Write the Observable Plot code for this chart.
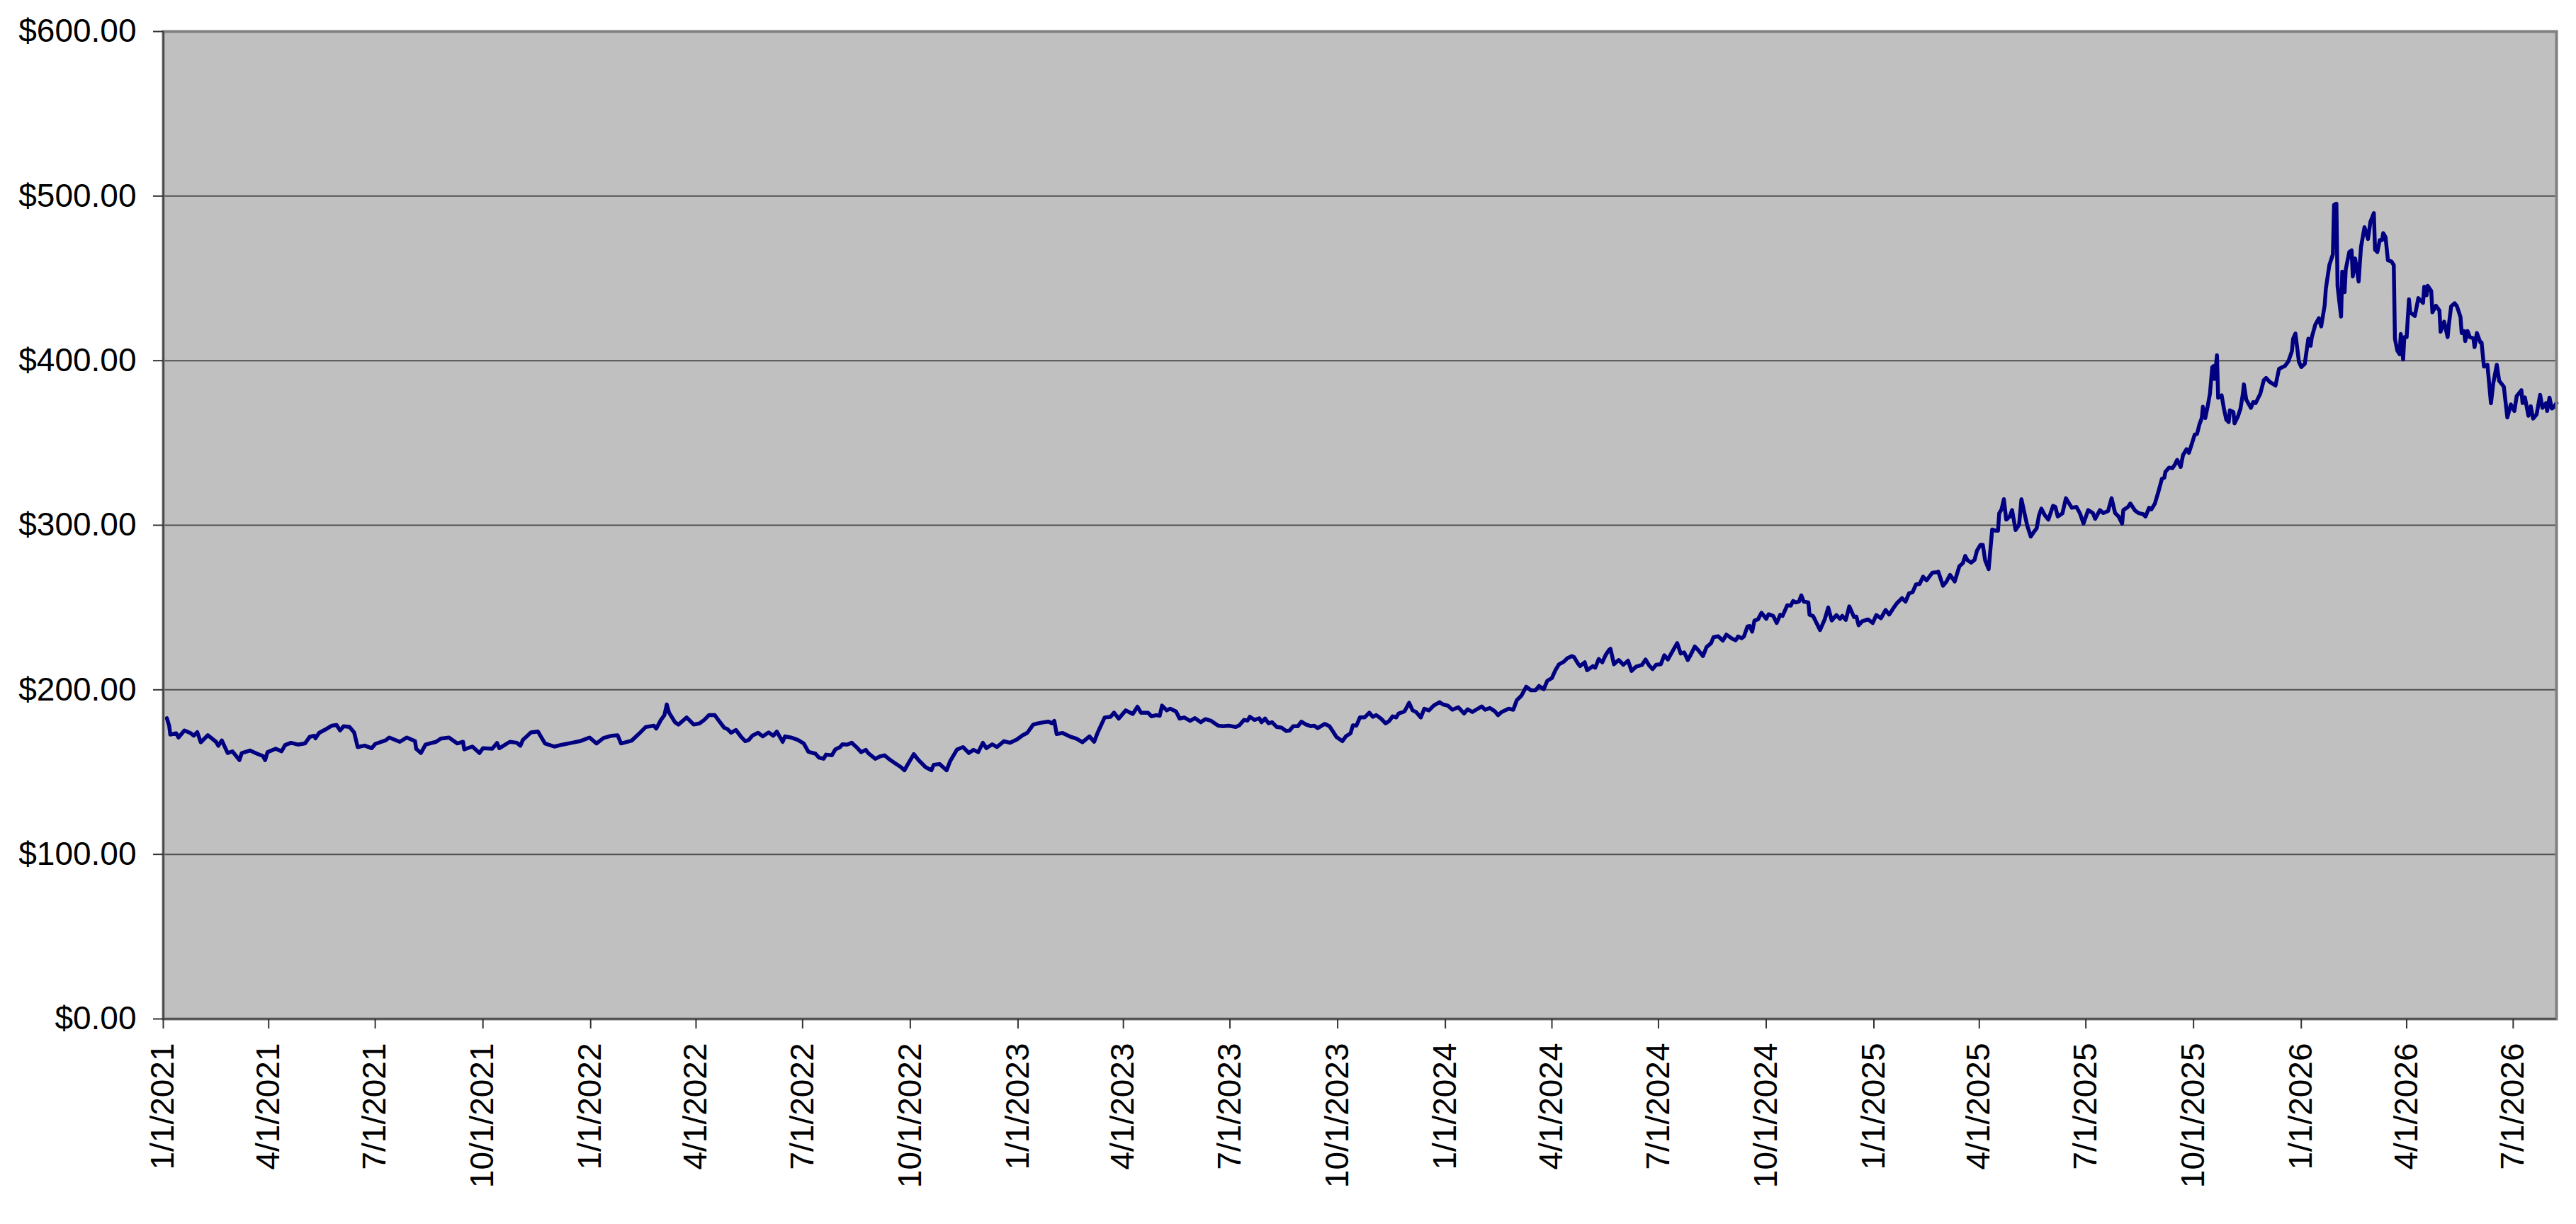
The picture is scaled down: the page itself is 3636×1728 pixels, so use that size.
<!DOCTYPE html>
<html>
<head>
<meta charset="utf-8">
<script src="https://cdn.jsdelivr.net/npm/d3@7"></script>
<script src="https://cdn.jsdelivr.net/npm/@observablehq/plot@0.6"></script>
<style>
  html, body { margin: 0; padding: 0; background: #ffffff; overflow: hidden; }
  #chart svg { display: block; }
</style>
</head>
<body>
<div id="chart"></div>
<script>
// Start of the series (day offsets below count from this date)
const startDate = "2021-01-01";
const endDate = "2026-08-07";

// Days since 2021-01-01 of each sampled point
const dayOffsets = [
  3,5,6,11,13,18,23,26,29,32,38,45,47,50,55,59,65,67,74,80,85,87,89,96,101,104,109,115,121,125,129,130,133,138,144,148,151,154,159,163,166,172,178,181,190,193,202,208,215,216,220,224,233,237,244,251,256,257,264,270,273,281,285,287,296,302,305,307,314,320,326,334,341,349,356,364,370,376,383,388,391,400,406,412,419,421,425,428,430,432,437,440,447,453,
  458,462,466,471,474,479,482,485,489,494,497,500,503,508,512,517,521,524,529,531,536,542,547,551,557,560,564,566,571,574,578,580,584,588,592,596,600,602,608,612,616,621,625,630,633,636,641,645,651,656,658,663,669,672,678,683,688,692,696,700,703,708,712,718,723,729,734,738,743,747,752,756,759,761,763,768,774,780,785,791,795,798,804,809,812,816,822,828,832,835,841,844,848,851,853,857,860,865,868,872,877,881,886,890,895,901,905,910,
  916,919,923,926,928,932,936,938,941,944,947,951,955,959,962,965,969,972,976,980,983,986,992,996,999,1002,1007,1010,1014,1016,1019,1022,1026,1030,1033,1036,1040,1044,1047,1050,1053,1055,1060,1062,1064,1067,1070,1074,1077,1081,1085,1090,1093,1097,1101,1106,1111,1114,1118,1122,1126,1129,1133,1137,1140,1143,1149,1153,1156,1160,1164,1168,1172,1175,1179,1182,1186,1189,1192,1196,1199,1203,1205,1208,1210,1214,1216,1221,1223,1226,1229,1232,1235,1236,1239,1243,1247,1251,1254,1258,1263,1266,1269,1272,1275,1279,1282,1285,1289,1293,1296,1299,1302,1304,1308,1311,1315,1318,1322,1324,1328,1332,1335,
  1340,1343,1345,1348,1350,1353,1355,1357,1359,1362,1365,1369,1371,1375,1378,1381,1383,1387,1390,1392,1394,1397,1399,1401,1405,1406,1409,1415,1419,1422,1425,1429,1432,1434,1437,1440,1444,1446,1448,1451,1456,1460,1463,1467,1471,1474,1478,1481,1485,1488,1491,1494,1497,1500,1503,1506,1511,1515,1516,1520,1523,1526,1530,1534,1537,1539,1541,1544,1547,1549,1552,1554,1556,1559,1562,1565,1567,1568,1570,1572,1574,1577,1579,1582,1585,1587,1590,1592,1595,1597,1600,1602,1604,1607,1610,1614,1616,1618,1622,1625,1630,1634,1637,1640,1644,1648,1650,1654,1657,1661,1664,1667,1670,1673,1674,1678,1680,1684,1687,1691,1693,1696,1698,1701,1704,
  1707,1709,1710,1713,1716,1718,1720,1723,1725,1728,1730,1732,1735,1737,1739,1741,1742,1744,1746,1748,1750,1751,1752,1754,1755,1758,1760,1762,1764,1765,1768,1769,1772,1774,1776,1777,1779,1783,1785,1787,1791,1794,1796,1799,1804,1807,1810,1812,1815,1818,1819,1821,1824,1826,1829,1832,1834,1835,1838,1841,1843,1846,1847,1850,1853,1854,1856,1857,1860,1861,1863,1864,1867,1869,1870,1872,1875,1876,1877,1880,1883,1885,1888,1889,1891,1893,1895,1896,1898,1900,1903,1905,1906,1908,1910,1911,1913,1914,1916,1918,1919,1923,1926,1930,1931,1933,1934,1937,1938,1941,1944,1945,1948,1951,1952,1954,1957,1959,1962,1963,1965,1966,1968,1970,1973,1974,1976,1979,1980,1982,1985,1988,1990,1993,1995,1999,2002,2005,2008,2010,2014,2015,2017,2020,2022,2024,2027,2030,2032,2035,2036,2038,2040,2042,2044
];

// Price (USD) at each sampled point
const prices = [
  182.8,178.2,172.8,173.6,171,175.3,173.8,172.1,174.3,168.1,172.4,168.4,166,169.2,161.6,162.6,157.3,161.6,163.1,161.2,159.8,157.3,162.1,164.2,162.6,166.4,167.8,166.7,167.4,171.4,172.1,170.5,173.8,175.7,178.2,178.6,175.3,177.9,177.4,174.1,165.2,166.1,164.5,167.1,169.3,171,168.4,171,168.8,164.1,161.6,166.7,168.4,170.3,171,167.4,168.4,163.8,165.5,161.6,164.5,164.2,167.7,164.5,168.4,167.8,166,169.5,174.1,174.6,167.4,165.5,166.7,167.8,168.8,171,167.4,170.7,172.1,172.4,167.4,169.1,173.1,177.4,178.2,176.4,181.7,184.6,191.1,186.1,180.3,178.9,183.2,178.9,
  179.6,181.7,184.6,184.6,181.7,177,176,173.9,175.6,171,168.8,169.5,172.1,173.9,171.7,174.1,172.1,174.6,168.4,171.7,171,169.5,167.4,162.3,161.2,158.8,158.1,160.6,160.2,163.8,165.2,166.9,166.7,167.8,165.2,162.1,163.5,161.6,158.1,159.5,160.2,157.3,155.4,153,151.1,154.9,160.9,157.3,153,151.1,154.4,154.9,151.1,156.6,163.8,165.2,161.6,163.5,162.1,167.8,164.5,166.9,165.2,168.8,167.8,169.8,172.4,173.9,178.9,179.6,180.3,180.7,179.6,181.1,173.1,173.8,171.7,170.3,168.1,171.7,168.4,173.9,183.2,183.6,186.1,182.5,187.5,185.3,189.7,186.1,186.1,183.9,184.6,184.2,190.4,187.5,188.5,186.8,182.5,183.2,181.1,182.8,180.3,182.2,181.1,178.2,177.9,178.2,
  177.4,178.4,181.7,181.3,183.6,181.7,182.7,180.3,182.5,179.6,180.3,177.4,177,175,175.3,177.9,177.9,180.6,178.9,177.9,178.2,176.7,179.3,177.9,174.6,171.3,168.8,171.7,173.6,178.4,178.2,183.2,183.2,186.1,183.6,184.6,182.5,179.6,181,183.9,183.2,185.6,186.8,189.4,192.1,187.5,186.5,183.2,188.5,187.5,190.4,192.5,191.1,190.4,187.9,189.4,185.6,188.2,186.5,188.2,189.9,187.9,188.9,187.1,184.6,186.5,188.5,187.9,193.7,196.5,201.9,199.7,199.7,202.3,200.4,205.4,207.2,211.9,215.5,217,219.1,220.5,219.8,216.2,214.4,216.7,211.9,214.4,213.4,218.7,216.7,221.3,224.4,224.9,215.5,218.1,215.2,217.7,211.5,214.1,215.2,218.4,214.8,212.6,215.2,215.5,221,218.4,223.4,228.4,222,222.7,218.1,220.5,226.3,224.1,220.5,225.9,228.4,232,232.5,229.9,233.5,
  231,230.1,232.4,231.3,232.4,238.5,238.8,235.3,242.1,242.8,246.8,243.1,245.9,244.9,240.6,245.6,244.9,251.4,251.1,254,253.1,253.6,257.4,253.6,253.1,245.6,244.9,236.3,242.8,250,242.1,245.4,243.1,244.9,242.5,250.7,244.2,244.5,239.2,241.6,242.8,240.6,245.4,243.5,248.5,245.7,250,252.9,255.7,253.6,258.6,259.3,264.1,264.3,268.7,266.5,271.2,271.5,271.8,263.2,265.8,269.8,265.8,275.1,277,281.3,278.7,277.3,279,284.5,288.1,288.1,278.7,273.3,297.4,296.7,296.7,307.2,309.6,315.8,303.4,305.3,309.2,297.1,300.3,315.8,306,299.6,293.1,295.3,298.1,306,310.1,306,303.4,311.8,311.1,305.3,307.2,316.4,310.6,311.1,307.2,301,309.2,307.4,303.9,309.2,307.4,308.6,316.4,307.4,305.3,301,309.2,311.1,313.2,308.9,307.4,306.7,305.3,310.6,309.6,313.2,320.4,
  328.3,328.9,332.5,335,334.7,336.8,339.7,335.4,342.6,346.2,344,348.3,355.1,355.5,361.2,365.1,372,365.1,372,379.9,396.1,396.7,388.9,403.3,377.5,378.9,370.6,364.1,362.7,369.8,368.8,361.9,366.3,370.6,379.2,385.6,376.3,371.3,374.9,374.2,379.9,388.1,389.5,387.1,384.9,395,396.1,396.7,399.6,405.7,413.3,416.5,399.3,396.1,398.1,413.3,409,414.3,421.9,425.8,420.8,433.7,443.7,458.1,464.6,494.7,495.4,445.2,426.8,454.1,441.6,455.5,466,467,451.2,462.1,448.1,458.8,468.9,481.1,473.9,484.2,489.7,467.4,466,473.2,473.2,477.5,475,461,460.3,458.1,413.3,406.2,403.9,416.2,400.7,414.3,414.3,437.3,429.4,427.2,438,435.1,444.9,439.7,445.5,442.3,429.4,433.4,430.5,417.6,423.7,414.3,421.5,433,434.9,433,426.5,416.8,418,411.9,418,414.3,413.6,408.2,416.8,411,411,396.4,397.5,374.1,386.3,397.5,387.8,384.2,365.5,373.4,369.4,378.5,382,374.2,377.7,366.5,372.3,364.8,367.4,379.2,371.3,374.2,369.4,377.5,370.9,372,374.2
];

// Axis tick values / labels
const yTickValues = [0, 100, 200, 300, 400, 500, 600];
const xTickDates = [
  "2021-01-01","2021-04-01","2021-07-01","2021-10-01",
  "2022-01-01","2022-04-01","2022-07-01","2022-10-01",
  "2023-01-01","2023-04-01","2023-07-01","2023-10-01",
  "2024-01-01","2024-04-01","2024-07-01","2024-10-01",
  "2025-01-01","2025-04-01","2025-07-01","2025-10-01",
  "2026-01-01","2026-04-01","2026-07-01"
];

const parse = d3.utcParse("%Y-%m-%d");
const start = parse(startDate);
const end = parse(endDate);
const data = dayOffsets.map((d, i) => ({date: d3.utcDay.offset(start, d), price: prices[i]}));
const xTicks = xTickDates.map(parse);

const chart = Plot.plot({
  width: 3636,
  height: 1728,
  marginLeft: 230,
  marginRight: 28,
  marginTop: 44,
  marginBottom: 290,
  style: {fontFamily: "'Liberation Sans', Arial, sans-serif", fontSize: "46px", color: "#000", background: "#fff", overflow: "visible"},
  x: {type: "utc", domain: [start, end]},
  y: {domain: [0, 600]},
  marks: [
    Plot.frame({fill: "#C0C0C0", stroke: null}),
    Plot.gridY({ticks: yTickValues.slice(1, -1), stroke: "#505050", strokeOpacity: 1, strokeWidth: 2}),
    Plot.line(data, {x: "date", y: "price", stroke: "#000080", strokeWidth: 5.5, strokeLinejoin: "round"}),
    Plot.frame({stroke: "#808080", strokeWidth: 4}),
    Plot.ruleY([0], {stroke: "#404040", strokeWidth: 2}),
    Plot.ruleX([start], {stroke: "#404040", strokeWidth: 2}),
    Plot.axisY({ticks: yTickValues, tickFormat: d3.format("$.2f"), tickSize: 14, tickPadding: 24, stroke: "#333", strokeWidth: 2, fill: "#000", label: null}),
    Plot.axisX({ticks: xTicks, tickFormat: d3.utcFormat("%-m/%-d/%Y"), tickRotate: -90, tickSize: 14, tickPadding: 20, stroke: "#333", strokeWidth: 2, fill: "#000", label: null})
  ]
});
document.getElementById("chart").append(chart);
</script>
</body>
</html>
